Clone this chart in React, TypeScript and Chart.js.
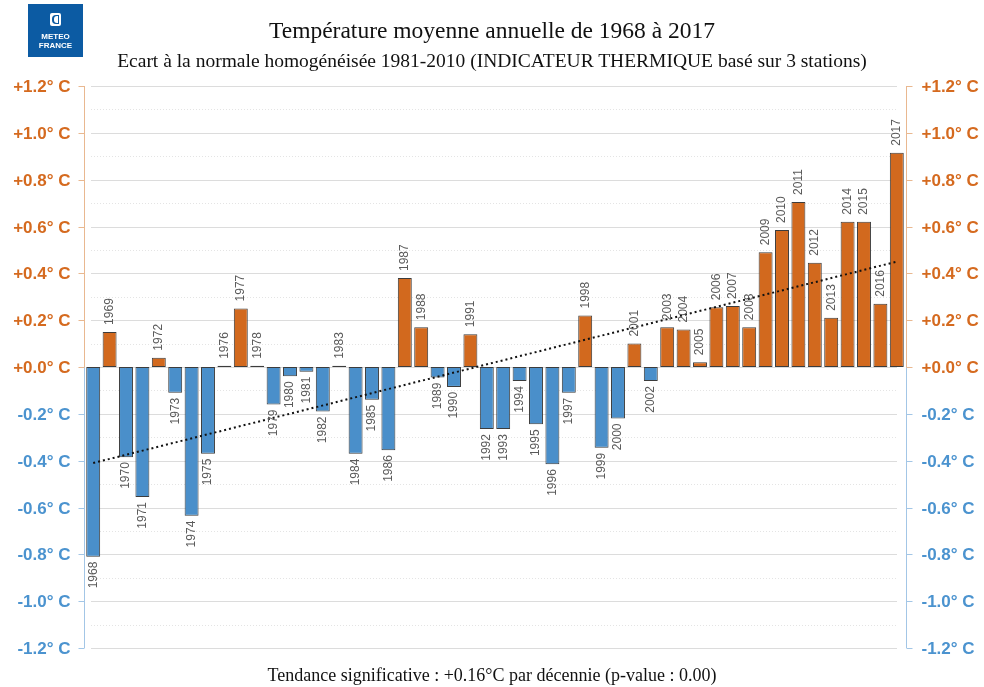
import React, { useEffect, useRef } from 'react';
import { Chart, registerables } from 'chart.js';

Chart.register(...registerables);

const years = [
  '1968', '1969', '1970', '1971', '1972', '1973', '1974', '1975', '1976', '1977',
  '1978', '1979', '1980', '1981', '1982', '1983', '1984', '1985', '1986', '1987',
  '1988', '1989', '1990', '1991', '1992', '1993', '1994', '1995', '1996', '1997',
  '1998', '1999', '2000', '2001', '2002', '2003', '2004', '2005', '2006', '2007',
  '2008', '2009', '2010', '2011', '2012', '2013', '2014', '2015', '2016', '2017',
];

const anomalies = [
  -0.81, 0.15, -0.385, -0.555, 0.04, -0.11, -0.635, -0.37, 0.005, 0.25,
  0.005, -0.16, -0.04, -0.02, -0.19, 0.005, -0.37, -0.14, -0.355, 0.38,
  0.17, -0.045, -0.085, 0.14, -0.265, -0.265, -0.06, -0.245, -0.415, -0.11,
  0.22, -0.345, -0.22, 0.10, -0.06, 0.17, 0.16, 0.02, 0.255, 0.26,
  0.17, 0.49, 0.585, 0.705, 0.445, 0.21, 0.62, 0.62, 0.27, 0.915,
];

const trendYears = ['1968', '2017'];
const trendValues = [-0.41, 0.45];

const majorTicks = [1.2, 1.0, 0.8, 0.6, 0.4, 0.2, 0.0, -0.2, -0.4, -0.6, -0.8, -1.0, -1.2];
const tickLabels = [
  '+1.2° C', '+1.0° C', '+0.8° C', '+0.6° C', '+0.4° C', '+0.2° C', '+0.0° C',
  '-0.2° C', '-0.4° C', '-0.6° C', '-0.8° C', '-1.0° C', '-1.2° C',
];
const minorTicks = [1.1, 0.9, 0.7, 0.5, 0.3, 0.1, -0.1, -0.3, -0.5, -0.7, -0.9, -1.1];

const ORANGE = '#d2691e';
const BLUE = '#4a8fca';
const ORANGE_TEXT = '#d56a1f';
const BLUE_TEXT = '#4b93cf';
const ORANGE_AXIS = '#e9b890';
const BLUE_AXIS = '#a3c6e6';

const customPlugin = {
  id: 'meteoCustom',
  beforeDatasetsDraw(chart: any) {
    const { ctx, chartArea } = chart;
    const y = chart.scales.y;
    const gl = chartArea.left + 6;
    const gr = chartArea.right - 8;
    ctx.save();
    ctx.strokeStyle = '#e4e4e4';
    ctx.lineWidth = 1;
    ctx.setLineDash([1, 2]);
    minorTicks.forEach((v) => {
      const py = Math.round(y.getPixelForValue(v)) + 0.5;
      ctx.beginPath();
      ctx.moveTo(gl, py);
      ctx.lineTo(gr, py);
      ctx.stroke();
    });
    ctx.setLineDash([]);
    ctx.strokeStyle = '#dcdcdc';
    majorTicks.forEach((v) => {
      const py = Math.round(y.getPixelForValue(v)) + 0.5;
      ctx.beginPath();
      ctx.moveTo(gl, py);
      ctx.lineTo(gr, py);
      ctx.stroke();
    });
    ctx.restore();
  },
  afterDatasetsDraw(chart: any) {
    const { ctx, chartArea } = chart;
    const x = chart.scales.x;
    const y = chart.scales.y;
    ctx.save();
    ctx.font = '12px "Liberation Sans", Arial, sans-serif';
    ctx.fillStyle = '#5a5a5a';
    ctx.textBaseline = 'middle';
    years.forEach((yr, i) => {
      const v = anomalies[i];
      const px = x.getPixelForValue(i);
      const py = y.getPixelForValue(v);
      ctx.save();
      if (v >= 0) {
        ctx.translate(px, py - 7);
        ctx.rotate(-Math.PI / 2);
        ctx.textAlign = 'left';
      } else {
        ctx.translate(px, py + 5);
        ctx.rotate(-Math.PI / 2);
        ctx.textAlign = 'right';
      }
      ctx.fillText(yr, 0, 0);
      ctx.restore();
    });

    const top = y.getPixelForValue(1.2);
    const zero = y.getPixelForValue(0);
    const bottom = y.getPixelForValue(-1.2);
    const lx = chartArea.left - 0.5;
    const rx = chartArea.right + 1.5;
    ctx.lineWidth = 1;
    const seg = (xx: number, y1: number, y2: number, c: string) => {
      ctx.strokeStyle = c;
      ctx.beginPath();
      ctx.moveTo(xx, y1);
      ctx.lineTo(xx, y2);
      ctx.stroke();
    };
    seg(lx, top, zero, ORANGE_AXIS);
    seg(lx, zero, bottom, BLUE_AXIS);
    seg(rx, top, zero, ORANGE_AXIS);
    seg(rx, zero, bottom, BLUE_AXIS);

    ctx.font = 'bold 17px "Liberation Sans", Arial, sans-serif';
    ctx.textBaseline = 'middle';
    majorTicks.forEach((v, i) => {
      const py = Math.round(y.getPixelForValue(v)) + 0.5;
      const pos = v >= 0;
      ctx.strokeStyle = pos ? ORANGE_AXIS : BLUE_AXIS;
      ctx.beginPath();
      ctx.moveTo(lx - 6, py);
      ctx.lineTo(lx, py);
      ctx.moveTo(rx, py);
      ctx.lineTo(rx + 6, py);
      ctx.stroke();
      ctx.fillStyle = pos ? ORANGE_TEXT : BLUE_TEXT;
      ctx.textAlign = 'right';
      ctx.fillText(tickLabels[i], lx - 14, py + 1);
      ctx.textAlign = 'left';
      ctx.fillText(tickLabels[i], rx + 15, py + 1);
    });
    ctx.restore();
  },
};

function Logo() {
  return (
    <div
      style={{
        position: 'absolute',
        left: 28,
        top: 4,
        width: 55,
        height: 53,
        background: '#0c5ba3',
        color: '#fff',
        fontFamily: '"Liberation Sans", Arial, sans-serif',
        fontWeight: 'bold',
        textAlign: 'center',
      }}
    >
      <div
        style={{
          position: 'absolute',
          left: 22,
          top: 9,
          width: 11,
          height: 13,
          background: '#fff',
          borderRadius: 2,
        }}
      >
        <div
          style={{
            position: 'absolute',
            left: 2,
            top: 2,
            width: 7,
            height: 9,
            borderRadius: '4px 0 0 4px',
            background: '#0c5ba3',
          }}
        />
        <div
          style={{
            position: 'absolute',
            left: 4,
            top: 3,
            width: 4,
            height: 7,
            borderRadius: '3px 0 0 3px',
            background: '#fff',
          }}
        />
      </div>
      <div style={{ position: 'absolute', left: 0, width: 55, top: 28, fontSize: 8, lineHeight: '9px' }}>
        METEO
        <br />
        FRANCE
      </div>
    </div>
  );
}

const serif = '"Liberation Serif", "Times New Roman", serif';

export default function App() {
  const canvasRef = useRef<HTMLCanvasElement | null>(null);

  useEffect(() => {
    if (!canvasRef.current) return;
    const chart = new Chart(canvasRef.current, {
      type: 'bar',
      data: {
        labels: years,
        datasets: [
          {
            type: 'line',
            label: 'Tendance',
            data: trendYears.map((yr, i) => ({ x: yr, y: trendValues[i] })),
            borderColor: '#111',
            borderWidth: 2,
            borderDash: [2, 3],
            pointRadius: 0,
            fill: false,
            order: 0,
          } as any,
          {
            type: 'bar',
            label: 'Ecart',
            data: anomalies,
            backgroundColor: anomalies.map((v) => (v >= 0 ? ORANGE : BLUE)),
            borderColor: '#3c3c3c',
            borderWidth: 1,
            borderSkipped: false,
            barPercentage: 0.85,
            categoryPercentage: 1,
            order: 1,
          } as any,
        ],
      },
      options: {
        responsive: false,
        animation: false,
        devicePixelRatio: 1,
        layout: { padding: { left: 85, right: 79, top: 86, bottom: 39 } },
        plugins: {
          legend: { display: false },
          tooltip: { enabled: false },
          title: { display: false },
        },
        scales: {
          x: { type: 'category', display: false, offset: true, grid: { display: false } },
          y: { display: false, min: -1.2, max: 1.2 },
        },
      },
      plugins: [customPlugin],
    });
    return () => chart.destroy();
  }, []);

  return (
    <div
      style={{
        position: 'absolute',
        left: 0,
        top: 0,
        width: 984,
        height: 687,
        background: '#fff',
        overflow: 'hidden',
      }}
    >
      <canvas ref={canvasRef} width={984} height={687} style={{ position: 'absolute', left: 0, top: 0 }} />
      <Logo />
      <div
        style={{
          position: 'absolute',
          left: 0,
          width: 984,
          top: 16,
          textAlign: 'center',
          fontFamily: serif,
          fontSize: 23.5,
          lineHeight: '28px',
          color: '#111',
        }}
      >
        Température moyenne annuelle de 1968 à 2017
      </div>
      <div
        style={{
          position: 'absolute',
          left: 0,
          width: 984,
          top: 49,
          textAlign: 'center',
          fontFamily: serif,
          fontSize: 19.5,
          lineHeight: '24px',
          color: '#111',
        }}
      >
        Ecart à la normale homogénéisée 1981-2010 (INDICATEUR THERMIQUE basé sur 3 stations)
      </div>
      <div
        style={{
          position: 'absolute',
          left: 0,
          width: 984,
          top: 664,
          textAlign: 'center',
          fontFamily: serif,
          fontSize: 18,
          lineHeight: '22px',
          color: '#111',
        }}
      >
        Tendance significative : +0.16°C par décennie (p-value : 0.00)
      </div>
    </div>
  );
}
